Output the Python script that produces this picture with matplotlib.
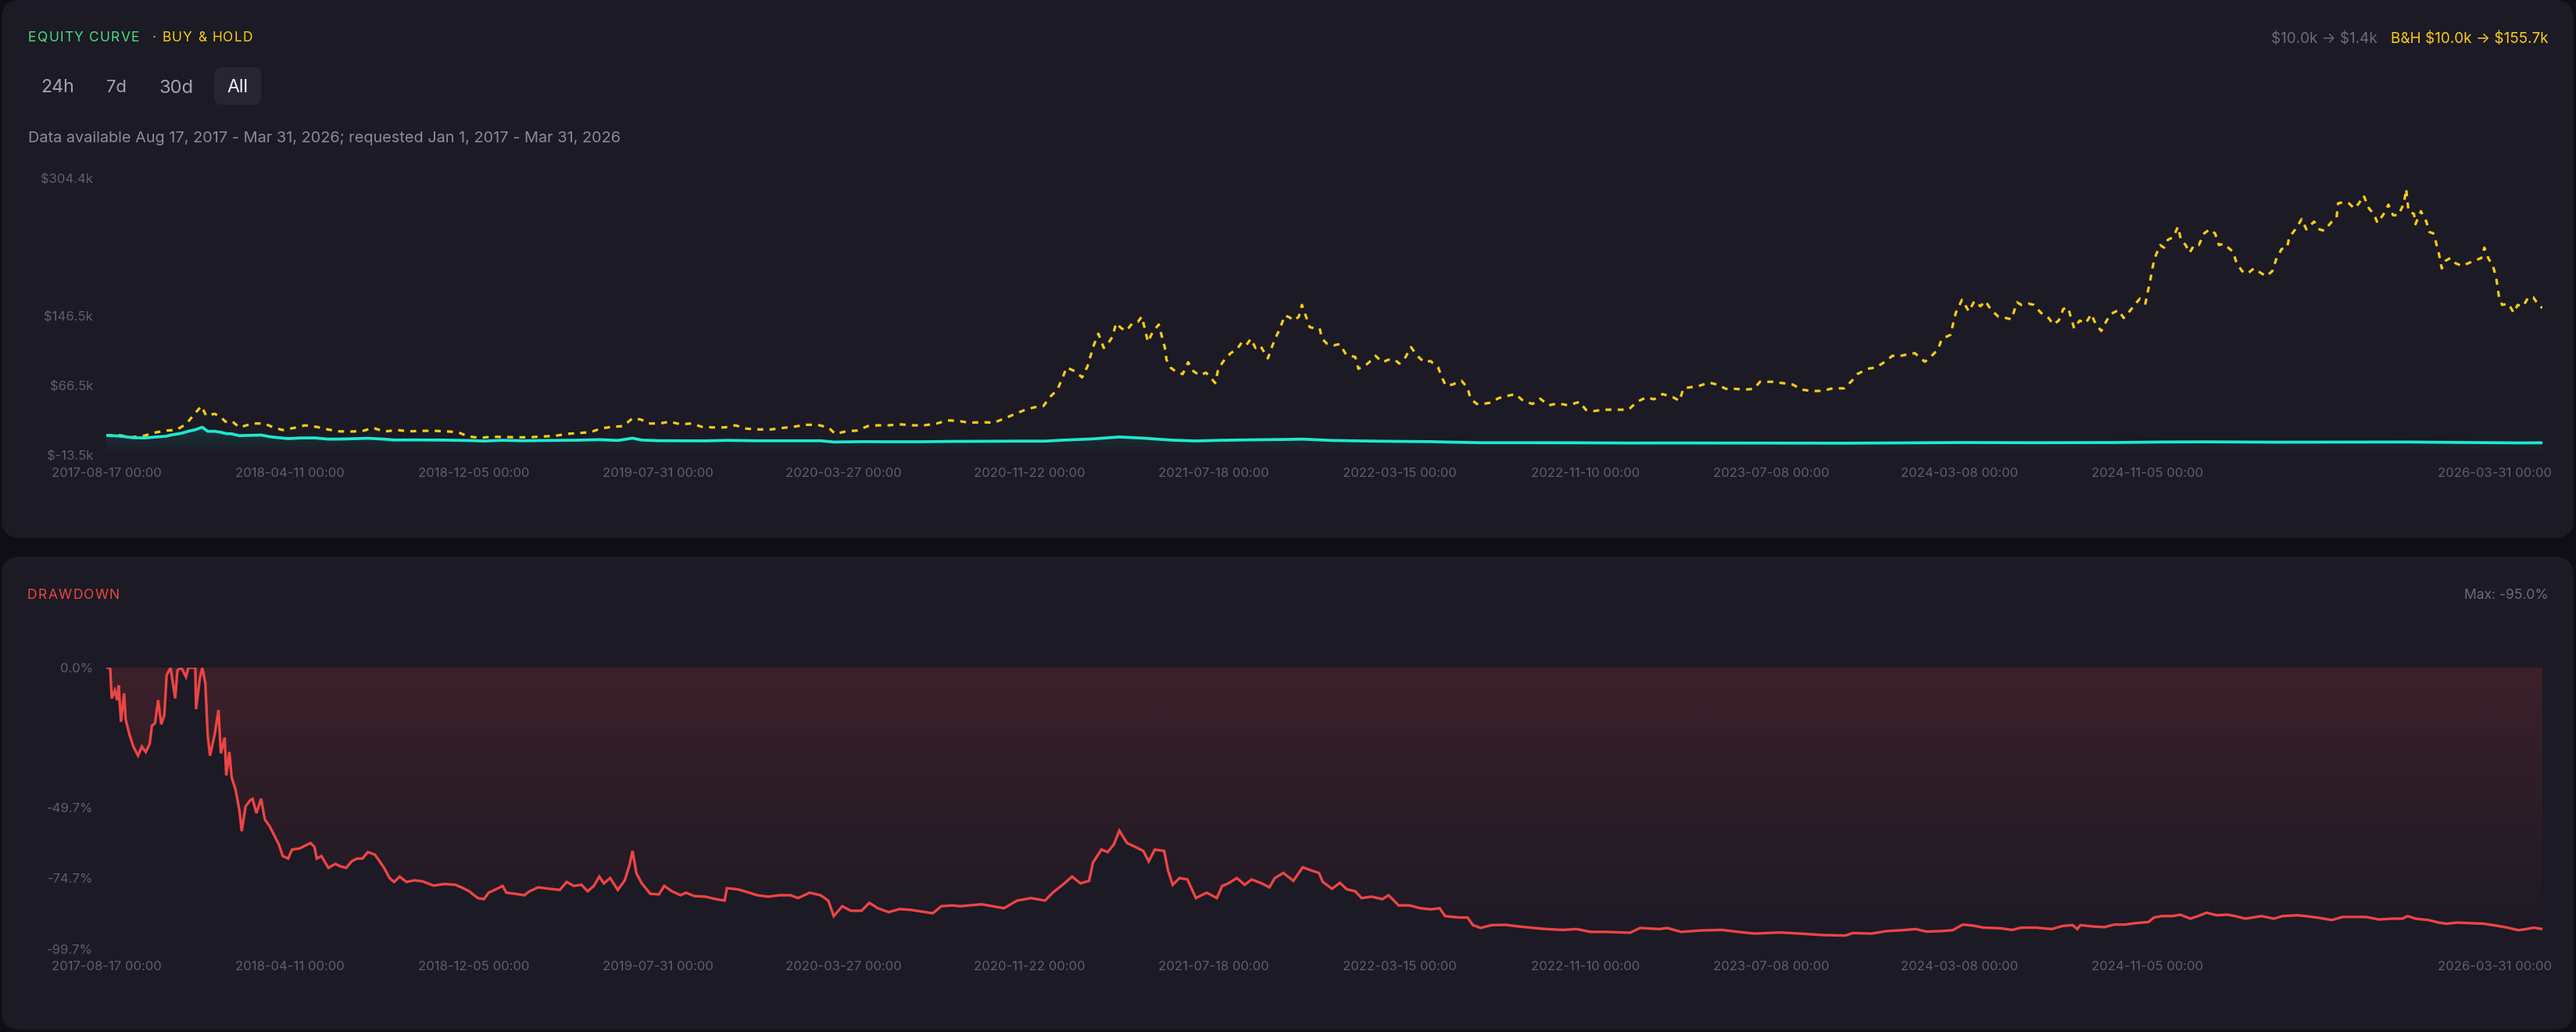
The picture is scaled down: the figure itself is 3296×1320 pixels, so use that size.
import numpy as np
import matplotlib
matplotlib.use("Agg")
import matplotlib.pyplot as plt
import matplotlib.dates as mdates
import matplotlib.colors as mcolors
from matplotlib.patches import FancyBboxPatch
from matplotlib.transforms import ScaledTranslation

# ---------------------------------------------------------------- data
START_DATE = "2017-08-17"
END_DAY = 3148  # 2026-03-31

# buy & hold equity ($k), day offsets from START_DATE
BH_DAYS = [0, 18, 32, 49, 63, 77, 90, 103, 115, 123, 129, 140, 147, 154, 162, 172, 181, 191, 204, 216,
           228, 243, 257, 272, 286, 301, 317, 331, 345, 359, 376, 391, 407, 423, 439, 454, 468, 483, 499, 515,
           532, 547, 563, 579, 595, 610, 626, 639, 653, 668, 680, 691, 701, 715, 728, 742, 756, 770, 785, 799,
           813, 827, 843, 859, 875, 889, 904, 919, 933, 942, 956, 970, 984, 997, 1011, 1025, 1041, 1057, 1073, 1087,
           1101, 1115, 1132, 1147, 1161, 1175, 1187, 1199, 1211, 1219, 1229, 1235, 1241, 1252, 1261, 1268, 1276, 1282, 1289, 1294,
           1300, 1305, 1312, 1318, 1326, 1333, 1338, 1342, 1346, 1352, 1360, 1364, 1368, 1370, 1375, 1384, 1391, 1398, 1405, 1413,
           1421, 1426, 1433, 1437, 1445, 1453, 1461, 1467, 1473, 1479, 1485, 1491, 1497, 1501, 1507, 1512, 1517, 1523, 1529, 1535,
           1541, 1545, 1551, 1555, 1562, 1568, 1571, 1578, 1586, 1594, 1602, 1614, 1618, 1626, 1632, 1640, 1649, 1657, 1665, 1671,
           1679, 1686, 1694, 1703, 1711, 1721, 1727, 1731, 1740, 1751, 1759, 1763, 1771, 1779, 1789, 1799, 1809, 1821, 1831, 1843,
           1853, 1864, 1876, 1889, 1904, 1912, 1922, 1936, 1952, 1967, 1978, 1990, 2000, 2011, 2025, 2033, 2038, 2049, 2059, 2071,
           2081, 2093, 2105, 2117, 2129, 2137, 2153, 2166, 2179, 2191, 2203, 2217, 2231, 2246, 2256, 2263, 2276, 2287, 2300, 2308,
           2315, 2327, 2337, 2350, 2358, 2367, 2372, 2383, 2390, 2398, 2407, 2414, 2422, 2428, 2436, 2445, 2455, 2462, 2469, 2475,
           2484, 2491, 2500, 2510, 2516, 2523, 2529, 2535, 2543, 2550, 2558, 2565, 2571, 2578, 2584, 2590, 2600, 2607, 2613, 2621,
           2628, 2635, 2638, 2641, 2644, 2647, 2654, 2659, 2664, 2671, 2677, 2681, 2687, 2692, 2698, 2704, 2711, 2718, 2725, 2730,
           2736, 2742, 2748, 2753, 2760, 2767, 2775, 2783, 2791, 2799, 2804, 2811, 2818, 2821, 2830, 2837, 2843, 2853, 2860, 2866,
           2876, 2882, 2884, 2892, 2898, 2905, 2911, 2917, 2924, 2930, 2935, 2943, 2949, 2955, 2962, 2969, 2972, 2975, 2982, 2984,
           2991, 2998, 3002, 3007, 3010, 3014, 3018, 3023, 3029, 3036, 3044, 3052, 3060, 3069, 3073, 3078, 3084, 3088, 3090, 3092,
           3096, 3104, 3111, 3116, 3123, 3130, 3136, 3143, 3148]
BH_VALUES = [10.0, 10.0, 7.7, 9.5, 13.1, 15.4, 16.0, 22.6, 35.5, 43.5, 32.4, 34.6, 31.5, 25.6, 26.5, 19.0, 21.4, 23.5, 23.5, 19.0,
             16.0, 18.5, 21.4, 19.6, 16.7, 14.5, 14.3, 14.9, 18.5, 14.3, 16.0, 14.5, 15.1, 15.1, 14.5, 13.6, 8.6, 7.1, 8.3, 8.0,
             7.7, 7.7, 8.6, 9.2, 11.6, 12.5, 13.6, 17.8, 19.6, 20.5, 29.5, 28.0, 23.5, 23.5, 25.6, 22.6, 23.5, 19.6, 19.0, 19.0,
             21.4, 17.6, 16.7, 16.7, 18.5, 19.9, 22.0, 22.0, 19.0, 11.6, 14.5, 15.4, 20.5, 21.4, 21.4, 22.6, 21.4, 21.4, 23.5, 27.1,
             26.5, 24.4, 25.0, 24.4, 29.5, 34.6, 39.1, 42.0, 43.5, 53.4, 62.3, 74.2, 87.7, 83.2, 76.3, 89.2, 113.0, 126.4, 110.0, 114.5,
             122.6, 138.4, 132.4, 129.5, 138.4, 139.9, 145.9, 132.4, 116.9, 128.0, 136.9, 123.5, 110.0, 96.6, 87.7, 81.7, 80.2, 93.7, 83.2, 78.7,
             81.7, 77.2, 69.8, 86.2, 96.6, 104.1, 108.5, 116.0, 113.0, 120.5, 110.0, 113.0, 104.1, 98.1, 113.0, 123.5, 133.0, 147.4, 145.0, 141.4,
             145.9, 159.3, 144.3, 133.9, 132.4, 132.4, 120.5, 114.5, 113.0, 114.5, 102.6, 99.6, 86.2, 89.2, 93.7, 101.1, 93.7, 96.6, 96.6, 92.1,
             99.6, 111.0, 101.1, 93.7, 95.1, 87.7, 74.2, 66.8, 68.2, 72.7, 64.4, 51.9, 45.9, 45.9, 47.4, 52.5, 54.8, 57.2, 49.4, 45.9,
             51.9, 44.4, 46.5, 44.4, 48.3, 39.1, 37.8, 39.3, 39.3, 39.3, 48.3, 53.4, 51.2, 57.2, 53.4, 49.4, 63.8, 65.3, 66.8, 70.4,
             68.2, 63.2, 63.2, 62.3, 63.2, 71.3, 71.3, 69.8, 68.2, 62.3, 60.8, 60.8, 63.8, 63.8, 72.7, 80.2, 86.2, 87.7, 95.1, 101.1,
             100.2, 102.6, 104.1, 94.2, 100.2, 108.5, 120.5, 125.0, 150.3, 165.2, 151.8, 163.8, 157.8, 163.8, 153.3, 145.9, 144.3, 142.9, 162.3, 159.3,
             160.8, 159.3, 150.3, 144.3, 136.9, 141.4, 154.8, 156.3, 132.4, 141.4, 138.4, 148.8, 136.9, 129.5, 139.9, 148.8, 153.3, 144.3, 150.3, 159.3,
             166.7, 160.8, 174.2, 186.1, 201.1, 213.0, 227.9, 224.9, 233.9, 236.9, 248.8, 233.9, 227.9, 219.0, 227.9, 227.9, 241.3, 245.8, 241.3, 227.9,
             229.4, 224.9, 220.4, 207.0, 198.0, 195.1, 201.1, 196.6, 192.1, 198.0, 211.5, 223.4, 224.9, 236.9, 247.3, 257.8, 245.8, 254.8, 245.8, 244.3,
             254.8, 259.3, 275.7, 277.2, 275.7, 269.7, 275.7, 284.6, 269.7, 263.6, 253.3, 263.6, 274.2, 262.1, 262.1, 275.7, 292.1, 266.7, 263.6, 251.8,
             266.7, 254.8, 242.8, 241.3, 232.4, 219.0, 201.1, 210.0, 213.0, 207.0, 204.0, 207.0, 210.0, 213.0, 224.9, 213.0, 204.0, 192.1, 180.1, 168.2,
             159.3, 160.8, 150.3, 159.3, 157.8, 168.2, 168.2, 159.3, 155.7]

# strategy equity ($k)
STRAT_DAYS = [0, 18, 35, 50, 63, 77, 83, 97, 106, 115, 124, 131, 140, 148, 155, 162, 172, 180, 190, 200,
              211, 223, 235, 250, 269, 287, 303, 324, 338, 359, 372, 398, 437, 469, 488, 512, 540, 572, 604, 637,
              661, 680, 692, 714, 742, 774, 802, 841, 884, 923, 940, 976, 1011, 1054, 1093, 1131, 1177, 1213, 1238, 1275,
              1309, 1340, 1378, 1408, 1442, 1480, 1521, 1546, 1584, 1622, 1670, 1712, 1730, 1776, 1844, 1900, 1969, 2035, 2130, 2247,
              2321, 2399, 2494, 2595, 2656, 2714, 2801, 2890, 2974, 3038, 3117, 3148]
STRAT_VALUES = [10.0, 9.0, 7.2, 7.0, 8.0, 8.9, 10.2, 12.3, 14.6, 16.4, 19.2, 14.6, 14.6, 13.4, 11.9, 11.7, 9.5, 9.8, 10.0, 10.3,
                8.4, 7.2, 6.2, 6.9, 7.0, 5.6, 5.7, 6.2, 6.6, 5.6, 4.6, 4.7, 4.5, 4.0, 3.4, 4.3, 3.7, 4.1, 4.3, 5.0,
                4.1, 6.7, 4.5, 3.8, 3.7, 3.6, 4.2, 3.7, 3.7, 3.7, 2.3, 2.7, 2.6, 2.6, 3.0, 3.1, 3.3, 3.3, 4.5, 5.9,
                8.1, 6.7, 4.4, 3.5, 4.3, 4.8, 5.2, 5.6, 4.1, 3.5, 3.0, 2.7, 2.3, 1.5, 1.5, 1.4, 1.15, 1.2, 1.1, 0.96,
                1.3, 1.7, 1.5, 1.7, 2.3, 2.5, 2.1, 2.2, 2.3, 1.8, 1.3, 1.4]

# drawdown (%)
DD_DAYS = [0, 5, 7, 11, 14, 16, 19, 23, 25, 30, 35, 41, 46, 51, 56, 59, 63, 67, 71, 75,
           78, 83, 89, 92, 97, 103, 106, 115, 116, 121, 124, 128, 131, 134, 140, 145, 148, 153, 155, 159,
           162, 167, 172, 175, 180, 186, 189, 194, 200, 205, 211, 216, 223, 228, 235, 240, 250, 257, 264, 269,
           272, 278, 287, 296, 303, 310, 317, 324, 331, 338, 347, 352, 359, 366, 372, 379, 388, 398, 409, 423,
           437, 451, 459, 469, 480, 488, 494, 505, 512, 517, 529, 540, 547, 558, 572, 586, 595, 604, 614, 622,
           630, 637, 643, 651, 661, 670, 676, 680, 685, 692, 703, 714, 721, 731, 742, 749, 760, 774, 788, 799,
           802, 816, 831, 841, 855, 870, 884, 894, 909, 923, 933, 940, 951, 962, 976, 986, 997, 1011, 1025, 1040,
           1054, 1068, 1079, 1093, 1103, 1131, 1160, 1177, 1195, 1213, 1223, 1238, 1248, 1259, 1270, 1275, 1286, 1294, 1302, 1309,
           1319, 1330, 1340, 1347, 1355, 1367, 1372, 1378, 1387, 1397, 1408, 1422, 1435, 1442, 1450, 1461, 1471, 1480, 1493, 1503,
           1510, 1521, 1534, 1546, 1557, 1567, 1572, 1584, 1594, 1603, 1614, 1622, 1635, 1649, 1657, 1670, 1684, 1698, 1712, 1723,
           1730, 1748, 1759, 1766, 1776, 1790, 1808, 1826, 1844, 1861, 1882, 1900, 1918, 1939, 1969, 1982, 2007, 2017, 2035, 2060,
           2088, 2109, 2130, 2162, 2189, 2217, 2247, 2257, 2281, 2301, 2321, 2338, 2352, 2372, 2386, 2399, 2413, 2426, 2447, 2463,
           2474, 2494, 2514, 2528, 2541, 2547, 2551, 2568, 2582, 2595, 2609, 2622, 2639, 2646, 2656, 2670, 2680, 2693, 2703, 2714,
           2727, 2741, 2751, 2764, 2785, 2801, 2812, 2832, 2842, 2859, 2876, 2890, 2920, 2937, 2954, 2967, 2974, 2984, 3001, 3014,
           3024, 3038, 3055, 3072, 3089, 3103, 3117, 3127, 3137, 3148]
DD_VALUES = [0.0, 0.0, -10.9, -8.1, -11.5, -6.3, -19.2, -9.1, -18.3, -23.8, -28.0, -31.2, -28.0, -29.9, -27.1, -20.6, -19.7, -11.5, -20.1, -16.9,
             -2.6, 0.0, -10.9, -0.9, 0.0, -3.3, 0.0, 0.0, -14.7, -3.7, 0.0, -5.5, -23.8, -31.2, -23.8, -15.0, -30.4, -24.8, -38.2, -29.9,
             -39.0, -43.2, -50.6, -58.0, -49.2, -47.0, -46.5, -51.6, -46.5, -53.9, -56.2, -58.9, -62.7, -66.8, -67.7, -64.5, -64.1, -63.1, -62.2, -63.6,
             -67.7, -66.8, -71.0, -69.6, -70.5, -71.0, -68.7, -67.7, -67.7, -65.4, -66.3, -68.2, -71.0, -74.6, -76.0, -74.1, -76.0, -75.4, -75.8, -77.3,
             -76.7, -77.0, -77.9, -79.3, -81.7, -82.1, -79.8, -78.4, -77.4, -79.8, -80.2, -80.7, -79.3, -77.9, -78.4, -78.8, -76.0, -77.4, -77.0, -79.3,
             -77.4, -74.1, -76.5, -74.6, -78.8, -75.4, -70.1, -65.0, -72.9, -76.5, -80.2, -80.4, -77.4, -79.3, -80.7, -79.8, -81.0, -81.2, -82.1, -82.6,
             -78.2, -78.6, -79.8, -80.7, -81.2, -80.7, -80.7, -81.7, -79.8, -80.7, -82.6, -88.1, -84.6, -86.2, -86.2, -83.4, -85.3, -86.7, -85.6, -85.9,
             -86.5, -87.1, -84.6, -84.3, -84.6, -83.9, -85.3, -82.6, -81.7, -82.6, -79.8, -76.5, -74.1, -76.5, -75.6, -69.1, -64.5, -65.4, -62.7, -57.8,
             -62.2, -63.6, -65.0, -68.7, -64.5, -65.0, -71.9, -77.0, -74.6, -75.1, -81.7, -79.8, -81.7, -77.4, -76.5, -74.6, -77.0, -75.1, -76.5, -77.9,
             -74.6, -72.8, -75.6, -70.8, -71.9, -72.8, -76.0, -78.4, -76.3, -78.6, -79.3, -81.7, -81.2, -82.1, -80.7, -84.3, -84.3, -85.3, -85.7, -85.3,
             -88.1, -88.6, -88.6, -91.3, -92.3, -91.3, -91.2, -91.8, -92.3, -92.7, -93.0, -92.7, -93.7, -93.7, -94.0, -92.3, -92.7, -92.3, -93.7, -93.2,
             -93.0, -93.7, -94.3, -93.9, -94.3, -94.8, -95.0, -94.1, -94.3, -93.4, -93.1, -92.7, -93.6, -93.4, -93.1, -91.1, -91.5, -92.2, -92.4, -93.0,
             -92.2, -92.2, -92.7, -91.6, -91.3, -92.7, -91.3, -91.8, -92.0, -91.1, -91.1, -90.6, -90.2, -88.6, -88.1, -88.1, -87.6, -89.0, -88.1, -86.9,
             -87.8, -87.6, -88.1, -89.0, -88.1, -89.0, -88.1, -87.8, -88.1, -88.7, -89.5, -88.4, -88.4, -89.3, -89.0, -89.0, -88.1, -89.0, -89.5, -90.4,
             -90.8, -90.4, -90.6, -90.8, -91.5, -92.2, -93.1, -92.7, -92.2, -92.7]

EQ_YTICKS = [-13.5, 66.5, 146.5, 304.4]
EQ_YLABELS = ["$-13.5k", "$66.5k", "$146.5k", "$304.4k"]
DD_YTICKS = [0.0, -49.7, -74.7, -99.7]
DD_YLABELS = ["0.0%", "-49.7%", "-74.7%", "-99.7%"]
X_TICKS = ["2017-08-17", "2018-04-11", "2018-12-05", "2019-07-31", "2020-03-27", "2020-11-22",
           "2021-07-18", "2022-03-15", "2022-11-10", "2023-07-08", "2024-03-08", "2024-11-05", "2026-03-31"]
RANGE_BUTTONS = ["24h", "7d", "30d", "All"]

# ---------------------------------------------------------------- style
W, H, DPI = 3296, 1320, 100
FONT = ["Inter", "DejaVu Sans"]
plt.rcParams["font.family"] = FONT

OUTER = "#0f0e17"
CARD = "#1b1a25"
GREEN = "#4ade80"
YELLOW = "#facc15"
CYAN = "#1fe8cf"
RED = "#ef4444"
TICK = "#5f5e73"
SUB = "#8b8a9e"
DIM = "#6c6b80"
BTN = "#a3a2b5"
BTN_BG = "#262533"


def to_num(days):
    d = np.datetime64(START_DATE) + np.asarray(days).astype("timedelta64[D]")
    return mdates.date2num(d)


def esc(s):
    return s.replace("$", r"\$")


fig = plt.figure(figsize=(W / DPI, H / DPI), dpi=DPI)
fig.patch.set_facecolor(OUTER)
R = fig.canvas.get_renderer()

bg = fig.add_axes([0, 0, 1, 1], zorder=0)
bg.set_xlim(0, W)
bg.set_ylim(H, 0)
bg.axis("off")
for (x0, y0, x1, y1) in [(2, 0, 3293, 688), (2, 712, 3293, 1317)]:
    bg.add_patch(FancyBboxPatch((x0, y0), x1 - x0, y1 - y0,
                                boxstyle="round,pad=0,rounding_size=24", fc=CARD, ec="none"))


def text_w(s, size, family=FONT):
    t = bg.text(0, 0, esc(s), fontsize=size, family=family)
    w = t.get_window_extent(R).width
    t.remove()
    return w


def put(x, yc, s, color, size=None, target_w=None, ha="left", family=FONT):
    if target_w is not None:
        size = 12 * target_w / text_w(s, 12, family)
    em = size * DPI / 72
    bg.text(x, yc + 0.727 * em / 2, esc(s), fontsize=size, color=color, ha=ha,
            va="baseline", family=family, zorder=5)
    return size


def put_spaced(x, yc, s, color, size, target_w, family=FONT):
    base = text_w(s, size, family)
    sp = (target_w - base) / (len(s) - 1)
    em = size * DPI / 72
    yb = yc + 0.727 * em / 2
    for i, ch in enumerate(s):
        if ch == " ":
            continue
        xr = x + text_w(s[:i + 1], size, family) + i * sp
        bg.text(xr, yb, esc(ch), fontsize=size, color=color, ha="right", va="baseline",
                family=family, zorder=5)


# headers
put_spaced(36, 47, "EQUITY CURVE", GREEN, 12.5, 142)
put_spaced(195, 47, "· BUY & HOLD", YELLOW, 12.5, 128)
put_spaced(35, 760, "DRAWDOWN", RED, 12.5, 118)

# range buttons
bg.add_patch(FancyBboxPatch((274, 86), 60, 48, boxstyle="round,pad=0,rounding_size=10",
                            fc=BTN_BG, ec="none", zorder=3))
btn_x = [52, 136, 204, 290]
btn_w = [43, 26, 44, 27]
for lbl, bx, bw in zip(RANGE_BUTTONS, btn_x, btn_w):
    put(bx, 110, lbl, "#f4f4f8" if lbl == "All" else BTN, target_w=bw)

put(36, 175, "Data available Aug 17, 2017 - Mar 31, 2026; requested Jan 1, 2017 - Mar 31, 2026",
    SUB, target_w=760)

put(3042, 48, "$10.0k \u2192 $1.4k", DIM, target_w=136, ha="right")
put(3261, 48, "B&H $10.0k \u2192 $155.7k", YELLOW, target_w=202, ha="right")
put(3261, 760, "Max: -95.0%", DIM, target_w=108, ha="right")


# ---------------------------------------------------------------- axes
def px_axes(x0, y0, x1, y1):
    ax = fig.add_axes([x0 / W, 1 - y1 / H, (x1 - x0) / W, (y1 - y0) / H], zorder=2)
    ax.patch.set_alpha(0)
    for s in ax.spines.values():
        s.set_visible(False)
    return ax


def gradient_fill(ax, x, y, base, color, a_top, a_bot, y_top, y_bot, z):
    coll = ax.fill_between(x, y, base, facecolor="none", edgecolor="none")
    path = coll.get_paths()[0]
    n = 256
    img = np.zeros((n, 2, 4))
    img[..., :3] = mcolors.to_rgb(color)
    img[..., 3] = np.linspace(a_top, a_bot, n)[:, None]
    im = ax.imshow(img, extent=[x[0], x[-1], y_bot, y_top], origin="upper",
                   aspect="auto", interpolation="bilinear", zorder=z)
    im.set_clip_path(path, transform=ax.transData)


x_ticks = mdates.date2num(np.array(X_TICKS, dtype="datetime64[D]"))
x_labels = [d + " 00:00" for d in X_TICKS]
xmin, xmax = to_num([0, END_DAY])


def style_axis(ax, yt, yl, ylim):
    ax.set_xlim(xmin, xmax)
    ax.set_ylim(*ylim)
    ax.set_yticks(yt)
    ax.set_yticklabels([esc(v) for v in yl])
    ax.set_xticks(x_ticks)
    ax.set_xticklabels(x_labels)
    ax.tick_params(axis="both", length=0, labelsize=12, labelcolor=TICK)
    ax.tick_params(axis="y", pad=12.2)
    ax.tick_params(axis="x", pad=11)
    last = ax.get_xticklabels()[-1]
    last.set_horizontalalignment("right")
    last.set_transform(last.get_transform() + ScaledTranslation(12 / DPI, 0, fig.dpi_scale_trans))


# equity
ax1 = px_axes(136, 228, 3253, 583)
xs = to_num(STRAT_DAYS)
xb = to_num(BH_DAYS)
gradient_fill(ax1, xs, np.array(STRAT_VALUES), -13.5, CYAN, 0.13, 0.0, 19.2, -13.5, 1)
ax1.plot(xb, BH_VALUES, color=YELLOW, lw=2.3, dashes=(2.4, 2.5), zorder=3)
ax1.plot(xs, STRAT_VALUES, color=CYAN, lw=2.7, solid_joinstyle="round", zorder=4)
style_axis(ax1, EQ_YTICKS, EQ_YLABELS, (-13.5, 304.4))

# drawdown
ax2 = px_axes(136, 854, 3253, 1213.6)
xd = to_num(DD_DAYS)
gradient_fill(ax2, xd, np.array(DD_VALUES), 0.0, RED, 0.16, 0.0, 0.0, -100.0, 1)
ax2.plot(xd, DD_VALUES, color=RED, lw=2.4, solid_joinstyle="miter", zorder=3)
style_axis(ax2, DD_YTICKS, DD_YLABELS, (-99.7, 0.0))

fig.savefig("out.png", dpi=DPI, facecolor=OUTER)
